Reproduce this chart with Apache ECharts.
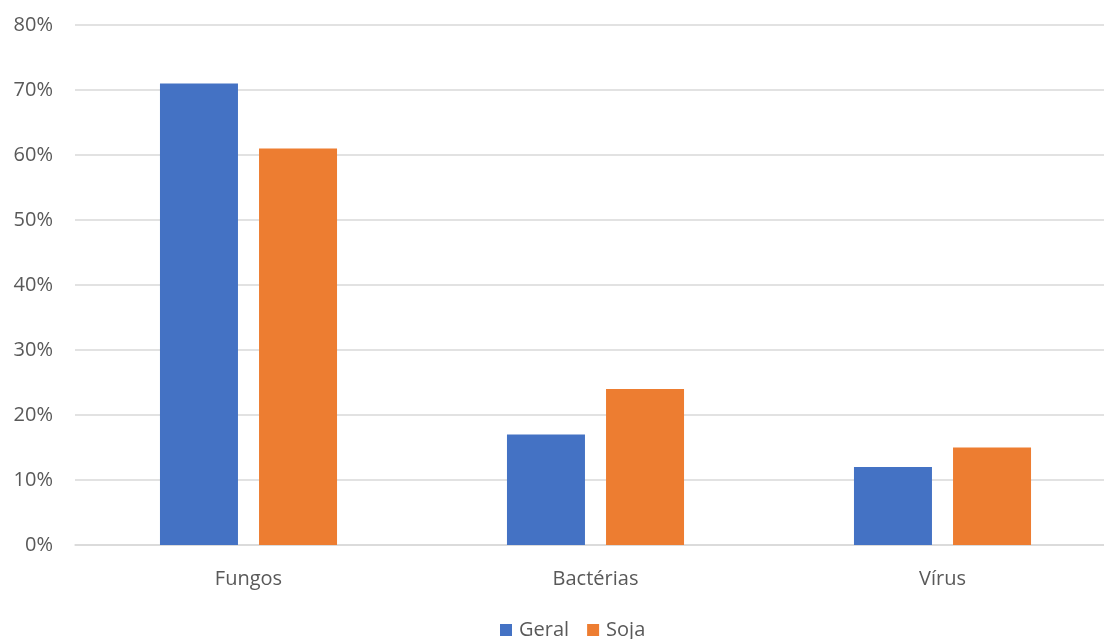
<!DOCTYPE html>
<html>
<head>
<meta charset="utf-8">
<script src="https://cdn.jsdelivr.net/npm/echarts@6/dist/echarts.min.js"></script>
<style>html,body{margin:0;padding:0;background:#fff;overflow:hidden;width:1104px;height:639px;}#c{width:1116px;height:639px;}</style>
</head>
<body>
<div id="c"></div>
<script>
const categories = ['Fungos', 'Bactérias', 'Vírus'];
const geral = [71, 17, 12];
const soja = [61, 24, 15];
const yTicks = { min: 0, max: 80, interval: 10 };

const chart = echarts.init(document.getElementById('c'), null, { renderer: 'canvas' });
const font = '"Open Sans", "Liberation Sans", sans-serif';
chart.setOption({
  animation: false,
  backgroundColor: '#ffffff',
  textStyle: { fontFamily: font },
  grid: { left: 75, top: 25, right: 0, bottom: 94, containLabel: false },
  legend: {
    data: ['Geral', 'Soja'],
    left: 495, top: 615,
    icon: 'rect', itemWidth: 12, itemHeight: 12, itemGap: 18,
    textStyle: { fontSize: 20, color: '#595959', fontFamily: font, padding: [0,0,0,2] }
  },
  xAxis: {
    type: 'category', data: categories,
    axisLine: { show: true, lineStyle: { color: '#d9d9d9', width: 1.5 } },
    axisTick: { show: false },
    axisLabel: { fontSize: 20, color: '#595959', margin: 24, fontFamily: font }
  },
  yAxis: {
    type: 'value', min: yTicks.min, max: yTicks.max, interval: yTicks.interval,
    axisLine: { show: false }, axisTick: { show: false },
    splitLine: { lineStyle: { color: '#d9d9d9', width: 1.5 } },
    axisLabel: { fontSize: 20, color: '#595959', margin: 22, formatter: '{value}%', fontFamily: font }
  },
  series: [
    { name: 'Geral', type: 'bar', data: geral, barWidth: 78, barGap: '27%', itemStyle: { color: '#4472C4' } },
    { name: 'Soja', type: 'bar', data: soja, barWidth: 78, itemStyle: { color: '#ED7D31' } }
  ]
});
</script>
</body>
</html>
